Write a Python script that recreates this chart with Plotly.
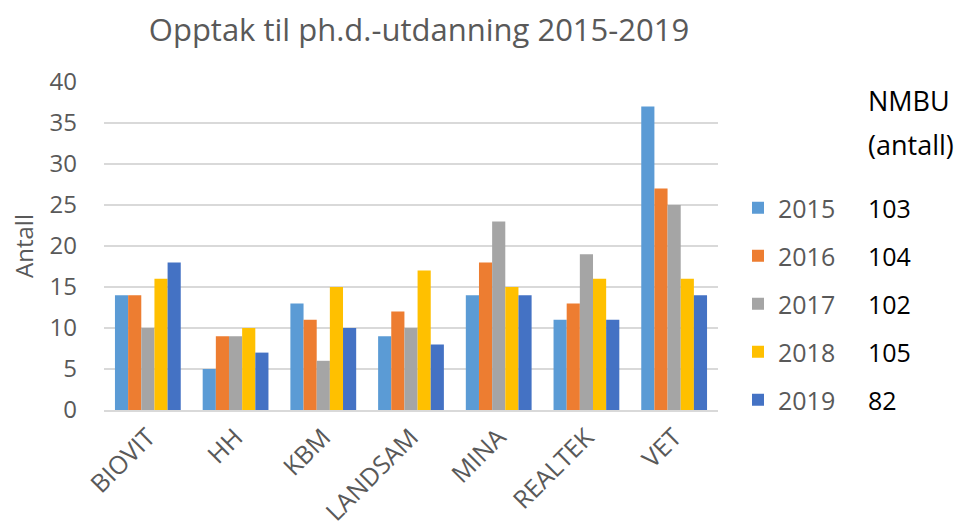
import plotly.graph_objects as go

categories = ["BIOVIT", "HH", "KBM", "LANDSAM", "MINA", "REALTEK", "VET"]
years = ["2015", "2016", "2017", "2018", "2019"]
v2015 = [14, 5, 13, 9, 14, 11, 37]
v2016 = [14, 9, 11, 12, 18, 13, 27]
v2017 = [10, 9, 6, 10, 23, 19, 25]
v2018 = [16, 10, 15, 17, 15, 16, 16]
v2019 = [18, 7, 10, 8, 14, 11, 14]
series = [v2015, v2016, v2017, v2018, v2019]
colors = ["#5B9BD5", "#ED7D31", "#A5A5A5", "#FFC000", "#4472C4"]

FONT = "Open Sans"
GRAY = "#595959"

fig = go.Figure()
for yr, vals, c in zip(years, series, colors):
    fig.add_trace(go.Bar(x=categories, y=vals, name=yr, marker_color=c,
                         marker_line_width=0, legendgroup=yr))

L, R, T, B = 104, 251, 82, 122
W, H = 969, 532
ph = H - T - B
pw = W - L - R

fig.update_layout(
    width=W, height=H,
    margin=dict(l=L, r=R, t=T, b=B, autoexpand=False),
    paper_bgcolor="white", plot_bgcolor="white",
    font=dict(family=FONT, color=GRAY, size=23),
    title=dict(text="Opptak til ph.d.-utdanning 2015-2019", x=419 / W, xanchor="center",
               y=1 - 30 / H, yanchor="middle", font=dict(size=31, color=GRAY)),
    barmode="group", bargap=0.25, bargroupgap=0,
    showlegend=True,
    legend=dict(x=(738 - L) / pw, xanchor="left", y=(410 - 185) / ph, yanchor="top",
                font=dict(size=25, color=GRAY), tracegroupgap=12.5,
                bgcolor="rgba(0,0,0,0)", itemwidth=30),
    xaxis=dict(tickangle=-45, showgrid=False, showline=True, linecolor="#D9D9D9",
               linewidth=1.5, tickfont=dict(size=25, color=GRAY), ticks="",
               ticklabelstandoff=1),
    yaxis=dict(range=[0, 40], dtick=5, showgrid=True, gridcolor="#D9D9D9", gridwidth=1.5,
               zeroline=False, tickfont=dict(size=24, color=GRAY), ticklabelstandoff=26,
               title=dict(text="Antall", font=dict(size=24, color=GRAY), standoff=9)),
)

for txt, ypix in [("NMBU", 100), ("(antall)", 144)]:
    fig.add_annotation(text=txt, xref="paper", yref="paper",
                       x=(866 - L) / pw, y=(410 - ypix) / ph, xanchor="left", yanchor="middle",
                       showarrow=False, align="left",
                       font=dict(size=27, color="black", family=FONT))

for i, vals in enumerate(series):
    total = sum(vals)
    ypix = 208 + 48 * i
    fig.add_annotation(text=str(total), xref="paper", yref="paper",
                       x=(866 - L) / pw, y=(410 - ypix) / ph, xanchor="left", yanchor="middle",
                       showarrow=False, font=dict(size=25, color="black", family=FONT))

fig.write_html("out.html", config={"displayModeBar": False},
               post_script="document.body.style.margin='0px';")
